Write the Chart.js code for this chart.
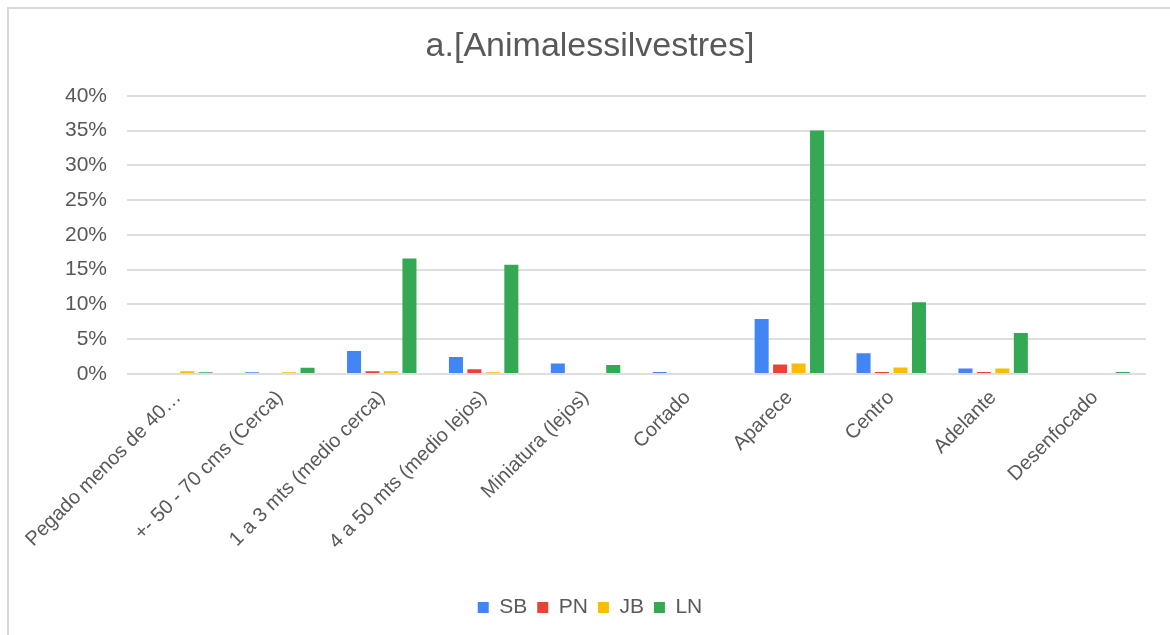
<!DOCTYPE html>
<html>
<head>
<meta charset="utf-8">
<script src="https://cdn.jsdelivr.net/npm/chart.js@4"></script>
<style>
  html, body { margin: 0; padding: 0; background: #ffffff; overflow: hidden; }
  #wrap { position: relative; width: 1170px; height: 635px; overflow: hidden; }
  #frame { position: absolute; left: 7px; top: 7px; width: 1200px; height: 700px;
           border: 2px solid #d9d9d9; box-sizing: border-box; }
  #c { position: absolute; left: 0; top: 0; }
</style>
</head>
<body>
<div id="wrap">
  <div id="frame"></div>
  <canvas id="c" width="1170" height="635"></canvas>
</div>
<script>
// Shot-distance / framing categories
const categories = [
  'Pegado menos de 40…',
  '+- 50 - 70 cms (Cerca)',
  '1 a 3 mts (medio cerca)',
  '4 a 50 mts (medio lejos)',
  'Miniatura (lejos)',
  'Cortado',
  'Aparece',
  'Centro',
  'Adelante',
  'Desenfocado'
];

// Percentages per series
const sb = [0, 0.25, 3.3, 2.45, 1.5, 0.3, 7.9, 3.0, 0.8, 0];
const pn = [0, 0, 0.4, 0.7, 0, 0, 1.35, 0.3, 0.3, 0];
const jb = [0.4, 0.25, 0.4, 0.25, 0, 0, 1.5, 0.95, 0.8, 0];
const ln = [0.25, 0.9, 16.6, 15.7, 1.3, 0, 35, 10.3, 5.9, 0.3];

const yMax = 40;
const yStep = 5;

const textColor = '#595959';
const fontFamily = '"Liberation Sans", Arial, sans-serif';

const series = [
  { label: 'SB', data: sb, color: '#4285F4' },
  { label: 'PN', data: pn, color: '#EA4335' },
  { label: 'JB', data: jb, color: '#FBBC04' },
  { label: 'LN', data: ln, color: '#34A853' }
];

new Chart(document.getElementById('c'), {
  type: 'bar',
  data: {
    labels: categories,
    datasets: series.map(s => ({
      label: s.label,
      data: s.data,
      backgroundColor: s.color,
      borderWidth: 0,
      categoryPercentage: 0.725,
      barPercentage: 0.76
    }))
  },
  options: {
    responsive: false,
    animation: false,
    layout: { padding: { left: 34, right: 24, top: 2, bottom: 7 } },
    plugins: {
      title: {
        display: true,
        text: 'a.[Animalessilvestres]',
        color: textColor,
        font: { family: fontFamily, size: 34, weight: 'normal' },
        padding: { top: 24, bottom: 29 }
      },
      legend: {
        position: 'bottom',
        labels: {
          color: textColor,
          font: { family: fontFamily, size: 21 },
          boxWidth: 11,
          boxHeight: 11,
          padding: 10
        }
      },
      tooltip: { enabled: false }
    },
    scales: {
      x: {
        grid: { display: false },
        border: { display: false },
        ticks: {
          color: textColor,
          font: { family: fontFamily, size: 20 },
          maxRotation: 45,
          minRotation: 45,
          autoSkip: false,
          padding: 4
        },
        afterFit: (scale) => { scale.height = 213; }
      },
      y: {
        min: 0,
        max: yMax,
        grid: { color: '#dedede', lineWidth: 2, drawTicks: false },
        border: { display: false },
        ticks: {
          stepSize: yStep,
          color: textColor,
          font: { family: fontFamily, size: 21 },
          padding: 20,
          callback: (v) => v + '%'
        },
        afterFit: (scale) => { scale.width = 93; }
      }
    }
  }
});
</script>
</body>
</html>
